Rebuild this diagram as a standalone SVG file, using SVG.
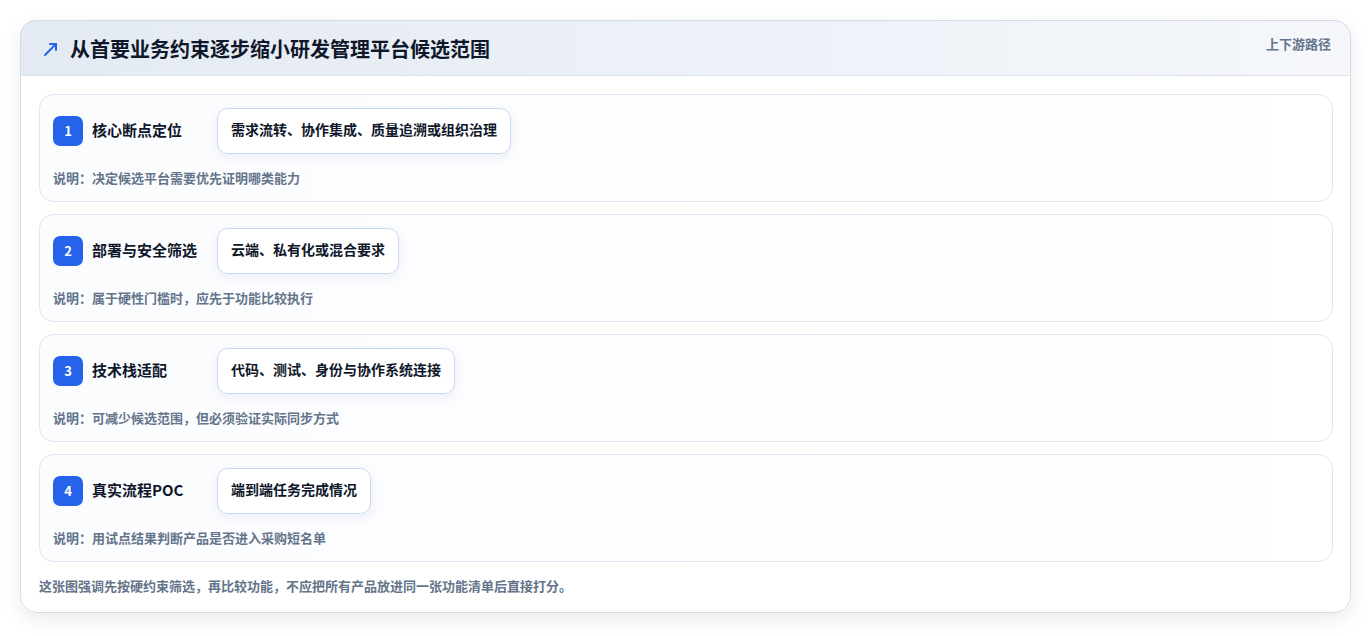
<svg xmlns="http://www.w3.org/2000/svg" width="1372" height="636" viewBox="0 0 1372 636">
<defs>
<linearGradient id="hdr" x1="0" y1="0" x2="1" y2="0">
<stop offset="0" stop-color="#e4eaf3"/>
<stop offset="1" stop-color="#f5f7fb"/>
</linearGradient>
<linearGradient id="rowg" x1="0" y1="0" x2="1" y2="0">
<stop offset="0" stop-color="#fbfcfe"/>
<stop offset="1" stop-color="#ffffff"/>
</linearGradient>
<filter id="sh" x="-10%" y="-10%" width="120%" height="130%">
<feDropShadow dx="0" dy="6" stdDeviation="9" flood-color="#0f172a" flood-opacity="0.08"/>
</filter>
<filter id="psh" x="-10%" y="-20%" width="120%" height="160%">
<feDropShadow dx="0" dy="3" stdDeviation="4" flood-color="#1e3a8a" flood-opacity="0.08"/>
</filter>
<clipPath id="cardclip"><rect x="20" y="20" width="1331" height="593" rx="16"/></clipPath>
</defs>
<style>
text{font-family:"Noto Sans CJK SC","Liberation Sans",sans-serif;}
.row{fill:url(#rowg);stroke:#dde6f2;stroke-width:1;}
.badge{fill:#2563eb;}
.bnum{fill:#ffffff;font-size:13px;font-weight:700;text-anchor:middle;}
.ttl{fill:#0f172a;font-size:15px;font-weight:700;}
.pill{fill:#ffffff;stroke:#c7d7ee;stroke-width:1;filter:url(#psh);}
.ptxt{fill:#0f172a;font-size:14px;font-weight:700;}
.note{fill:#64748b;font-size:13px;font-weight:700;}
</style>
<rect width="1372" height="636" fill="#ffffff"/>
<g id="card">
<rect x="20" y="20" width="1331" height="593" rx="16" fill="#ffffff" filter="url(#sh)"/>
<g clip-path="url(#cardclip)">
<rect x="20" y="20" width="1331" height="55" fill="url(#hdr)"/>
</g>
<line x1="20" y1="75.5" x2="1351" y2="75.5" stroke="#dbe4f0" stroke-width="1"/>
<rect x="20.5" y="20.5" width="1330" height="592" rx="16" fill="none" stroke="#d3dbe7" stroke-width="1"/>
</g>
<g id="header">
<g stroke="#2563eb" stroke-width="2" fill="none" stroke-linecap="round">
<line x1="45" y1="55" x2="56" y2="44"/>
<polyline points="50,44 56,44 56,50"/>
</g>
<text x="70" y="57" fill="#0f172a" font-size="20" font-weight="700">从首要业务约束逐步缩小研发管理平台候选范围</text>
<text x="1331" y="48.5" fill="#64748b" font-size="13" font-weight="700" text-anchor="end">上下游路径</text>
</g>
<g id="step1">
<rect class="row" x="39.5" y="94.5" width="1293" height="107" rx="14"/>
<rect class="badge" x="53" y="116" width="30" height="30" rx="7"/>
<text class="bnum" x="68" y="135.5">1</text>
<text class="ttl" x="92" y="136">核心断点定位</text>
<rect class="pill" x="217.5" y="108.5" width="293" height="45" rx="10"/>
<text class="ptxt" x="231" y="135">需求流转、协作集成、质量追溯或组织治理</text>
<text class="note" x="53" y="182.5">说明：决定候选平台需要优先证明哪类能力</text>
</g>
<g id="step2">
<rect class="row" x="39.5" y="214.5" width="1293" height="107" rx="14"/>
<rect class="badge" x="53" y="236" width="30" height="30" rx="7"/>
<text class="bnum" x="68" y="255.5">2</text>
<text class="ttl" x="92" y="256">部署与安全筛选</text>
<rect class="pill" x="217.5" y="228.5" width="181" height="45" rx="10"/>
<text class="ptxt" x="231" y="255">云端、私有化或混合要求</text>
<text class="note" x="53" y="302.5">说明：属于硬性门槛时，应先于功能比较执行</text>
</g>
<g id="step3">
<rect class="row" x="39.5" y="334.5" width="1293" height="107" rx="14"/>
<rect class="badge" x="53" y="356" width="30" height="30" rx="7"/>
<text class="bnum" x="68" y="375.5">3</text>
<text class="ttl" x="92" y="376">技术栈适配</text>
<rect class="pill" x="217.5" y="348.5" width="237" height="45" rx="10"/>
<text class="ptxt" x="231" y="375">代码、测试、身份与协作系统连接</text>
<text class="note" x="53" y="422.5">说明：可减少候选范围，但必须验证实际同步方式</text>
</g>
<g id="step4">
<rect class="row" x="39.5" y="454.5" width="1293" height="107" rx="14"/>
<rect class="badge" x="53" y="476" width="30" height="30" rx="7"/>
<text class="bnum" x="68" y="495.5">4</text>
<text class="ttl" x="92" y="496">真实流程POC</text>
<rect class="pill" x="217.5" y="468.5" width="153" height="45" rx="10"/>
<text class="ptxt" x="231" y="495">端到端任务完成情况</text>
<text class="note" x="53" y="542.5">说明：用试点结果判断产品是否进入采购短名单</text>
</g>
<g id="connectors"></g>
<text x="39" y="590.5" fill="#64748b" font-size="13" font-weight="700">这张图强调先按硬约束筛选，再比较功能，不应把所有产品放进同一张功能清单后直接打分。</text>
</svg>
